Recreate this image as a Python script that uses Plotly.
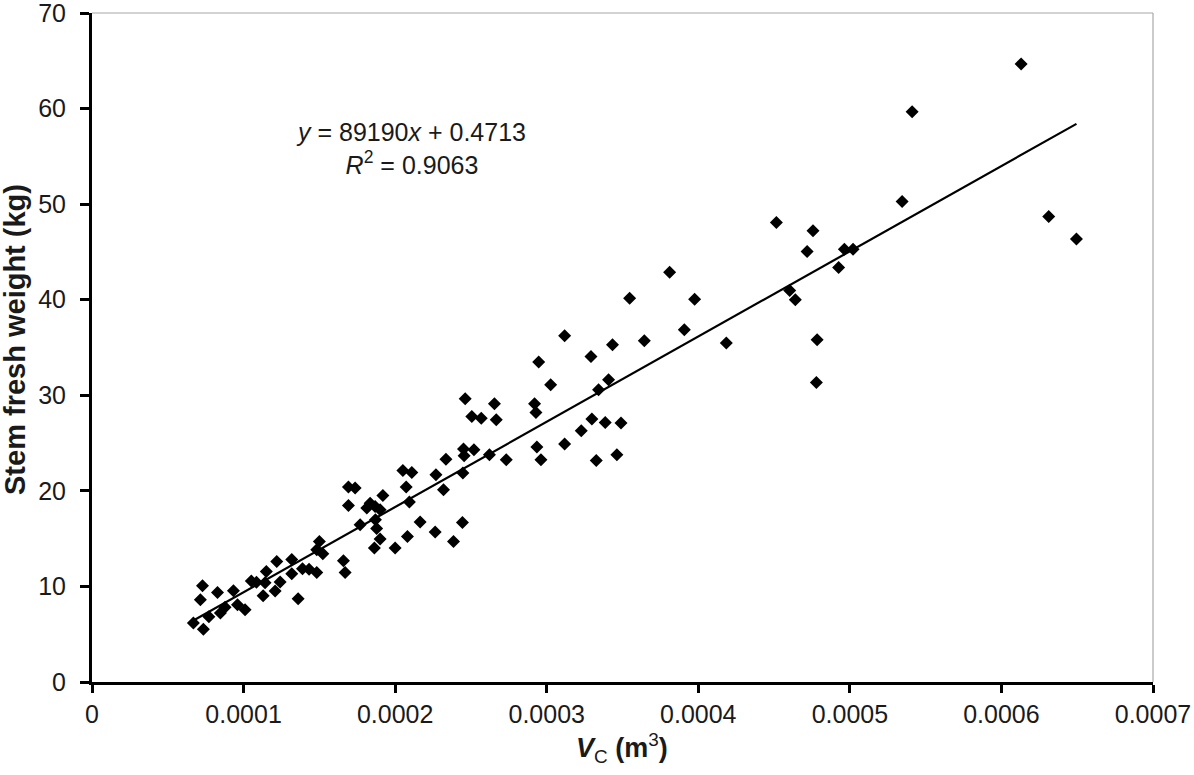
import plotly.graph_objects as go

# Stem volume V_C (m^3) and stem fresh weight (kg)
vc = [
    0.0000669, 0.0000735, 0.0000729, 0.0000715, 0.0000828, 0.0000771, 0.0000847, 0.0000878,
    0.0000933, 0.0000960, 0.0001010, 0.0001051, 0.0001085, 0.0001129, 0.0001150, 0.0001142,
    0.0001208, 0.0001219, 0.0001241, 0.0001318, 0.0001318, 0.0001360, 0.0001389, 0.0001432,
    0.0001483, 0.0001500, 0.0001483, 0.0001523, 0.0001659, 0.0001670, 0.0001692, 0.0001692,
    0.0001736, 0.0001769, 0.0001813, 0.0001835, 0.0001868, 0.0001901, 0.0001870, 0.0001878,
    0.0001901, 0.0001863, 0.0002000, 0.0001919, 0.0002051, 0.0002110, 0.0002073, 0.0002094,
    0.0002081, 0.0002165, 0.0002264, 0.0002269, 0.0002335, 0.0002319, 0.0002385, 0.0002444,
    0.0002447, 0.0002451, 0.0002455, 0.0002462, 0.0002506, 0.0002568, 0.0002520, 0.0002622,
    0.0002655, 0.0002667, 0.0002733, 0.0002920, 0.0002929, 0.0002935, 0.0002962, 0.0002947,
    0.0003026, 0.0003118, 0.0003118, 0.0003228, 0.0003298, 0.0003292, 0.0003327, 0.0003342,
    0.0003386, 0.0003408, 0.0003434, 0.0003463, 0.0003490, 0.0003547, 0.0003644, 0.0003811,
    0.0003908, 0.0003976, 0.0004185, 0.0004515, 0.0004603, 0.0004640, 0.0004718, 0.0004757,
    0.0004784, 0.0004779, 0.0004926, 0.0004964, 0.0005021, 0.0005345, 0.0005411, 0.0006130,
    0.0006312, 0.0006495,
]
weight = [
    6.17, 5.52, 10.07, 8.61, 9.37, 6.83, 7.22, 7.82,
    9.55, 8.09, 7.56, 10.56, 10.44, 9.03, 11.57, 10.39,
    9.53, 12.61, 10.47, 12.82, 11.33, 8.71, 11.85, 11.80,
    11.46, 14.71, 13.84, 13.42, 12.69, 11.46, 18.47, 20.40,
    20.29, 16.45, 18.20, 18.70, 18.37, 18.02, 16.98, 16.06,
    14.96, 14.02, 14.02, 19.52, 22.13, 21.92, 20.40, 18.83,
    15.23, 16.74, 15.69, 21.68, 23.32, 20.11, 14.71, 16.69,
    21.86, 24.37, 23.67, 29.63, 27.78, 27.61, 24.30, 23.78,
    29.11, 27.44, 23.25, 29.11, 28.20, 24.58, 23.25, 33.47,
    31.10, 36.22, 24.89, 26.29, 27.51, 34.06, 23.18, 30.57,
    27.15, 31.62, 35.28, 23.78, 27.09, 40.16, 35.70, 42.88,
    36.85, 40.06, 35.46, 48.07, 40.96, 39.99, 45.04, 47.21,
    35.80, 31.34, 43.37, 45.29, 45.29, 50.27, 59.68, 64.67,
    48.70, 46.34,
]

slope = 89190
intercept = 0.4713
r_squared = 0.9063

x_ticks = [0, 0.0001, 0.0002, 0.0003, 0.0004, 0.0005, 0.0006, 0.0007]
x_tick_labels = ["0", "0.0001", "0.0002", "0.0003", "0.0004", "0.0005", "0.0006", "0.0007"]
y_ticks = [0, 10, 20, 30, 40, 50, 60, 70]

fit_x = [min(vc), max(vc)]
fit_y = [slope * v + intercept for v in fit_x]

font_family = "Liberation Sans, Arial, sans-serif"

fig = go.Figure()
fig.add_trace(go.Scatter(
    x=fit_x, y=fit_y, mode="lines",
    line=dict(color="black", width=2.2),
    hoverinfo="skip", showlegend=False,
))
fig.add_trace(go.Scatter(
    x=vc, y=weight, mode="markers",
    marker=dict(symbol="diamond", size=10, color="black"),
    showlegend=False,
))

fig.update_layout(
    width=1194, height=775,
    margin=dict(l=92, r=41, t=13, b=93),
    paper_bgcolor="white", plot_bgcolor="white",
    font=dict(family=font_family, color="#1a1a1a", size=24),
    xaxis=dict(
        range=[0, 0.0007], tickvals=x_ticks, ticktext=x_tick_labels,
        showgrid=False, zeroline=False, automargin=False,
        ticklabeloverflow="allow",
        showline=True, linecolor="black", linewidth=3,
        ticks="outside", ticklen=8, tickwidth=2.5, tickcolor="black",
        tickfont=dict(size=25, color="#1a1a1a"),
    ),
    yaxis=dict(
        range=[0, 70], tickvals=y_ticks,
        showgrid=False, zeroline=False, automargin=False,
        ticklabeloverflow="allow", ticklabelstandoff=9,
        showline=True, linecolor="black", linewidth=3,
        ticks="outside", ticklen=9, tickwidth=2.5, tickcolor="black",
        tickfont=dict(size=25, color="#1a1a1a"),
    ),
    shapes=[
        dict(type="line", xref="paper", yref="paper", x0=0, x1=1, y0=1, y1=1,
             line=dict(color="#a8a8a8", width=1.2)),
        dict(type="line", xref="paper", yref="paper", x0=1, x1=1, y0=0, y1=1,
             line=dict(color="#a8a8a8", width=1.2)),
    ],
    annotations=[
        dict(
            text="<i>y</i> = 89190<i>x</i> + 0.4713<br><i>R</i><sup>2</sup> = %.4f" % r_squared,
            xref="paper", yref="paper",
            x=(411 - 92) / 1061, y=(682 - 148) / 669,
            xanchor="center", yanchor="middle", showarrow=False,
            font=dict(size=25, color="#1a1a1a", family=font_family),
            align="center",
        ),
        dict(
            text="<b><i>V</i></b><sub>C</sub><b> (m</b><sup>3</sup><b>)</b>",
            xref="paper", yref="paper",
            x=(622 - 92) / 1061, y=(682 - 748) / 669,
            xanchor="center", yanchor="middle", showarrow=False,
            font=dict(size=27, color="#1a1a1a", family=font_family),
        ),
        dict(
            text="<b>Stem fresh weight (kg)</b>",
            xref="paper", yref="paper",
            x=(15 - 92) / 1061, y=(682 - 340) / 669,
            xanchor="center", yanchor="middle", showarrow=False,
            textangle=-90,
            font=dict(size=29, color="#1a1a1a", family=font_family),
        ),
    ],
)

fig.write_html(
    "out.html",
    config={"displayModeBar": False},
    post_script="document.body.style.margin='0';document.body.style.padding='0';",
)
